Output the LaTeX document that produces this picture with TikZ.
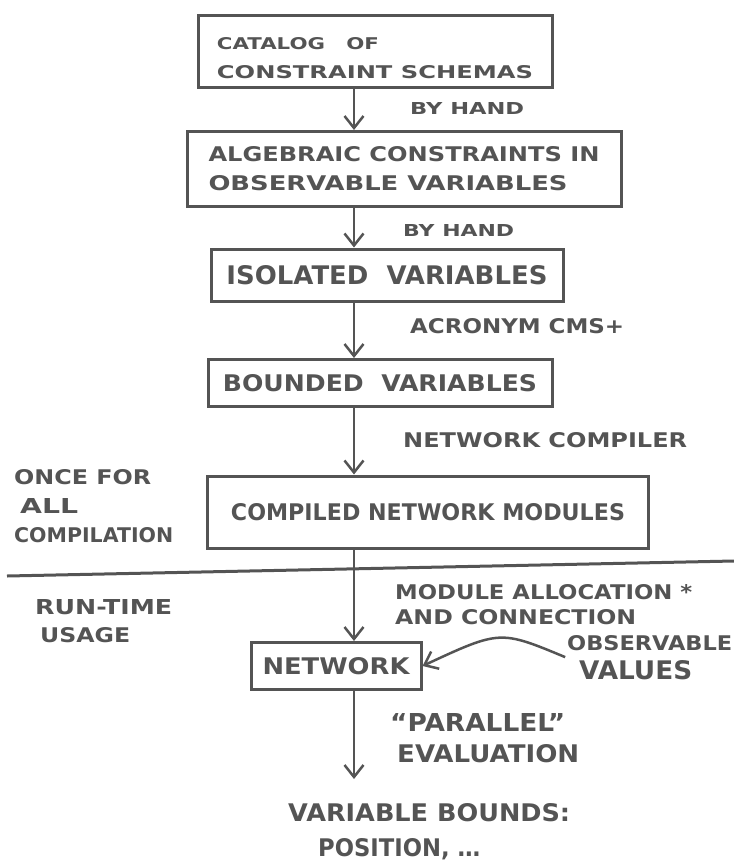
\documentclass[tikz,border=0pt]{standalone}
\usepackage{fontspec}
\setmainfont{DejaVu Sans}
\usepackage{tikz}
\usetikzlibrary{
	arrows.meta
}
\definecolor{Pencil}{RGB}{84,84,84}
% hand lettering: width, cap height, text
\newcommand{\hand}[3]{\resizebox{#1pt}{#2pt}{\bfseries #3}}

\begin{document}
\begin{tikzpicture}[
	x=1pt, y=-1pt,
	every node/.style={text=Pencil, inner sep=0pt},
	box/.style={draw=Pencil, line width=3pt, align=left},
	note/.style={anchor=north west, align=left},
	flow/.style={draw=Pencil, line width=2.5pt,
		-{Straight Barb[length=12pt, width=19pt, line width=2.5pt]}},
	divider/.style={draw=Pencil, line width=3pt}
	]
	\useasboundingbox (0,0) rectangle (734,863);
	
	\coordinate (axis) at (354,0);
	
	\node[
	box,
	minimum width=354pt,
	minimum height=72pt,
	text height=55pt,
	text depth=0pt,
	font=\fontsize{12}{29}\selectfont
	] (catalog) at (375,51) {\hand{162}{12}{CATALOG\quad OF}\\\hand{316}{13}{CONSTRAINT SCHEMAS}};
	
	\node[
	box,
	minimum width=434pt,
	minimum height=75pt,
	font=\fontsize{12}{29}\selectfont
	] (algebraic) at (404,169) {\hand{391}{15}{ALGEBRAIC CONSTRAINTS IN}\\\hand{359}{15}{OBSERVABLE VARIABLES}};
	
	\node[
	box,
	minimum width=352pt,
	minimum height=52pt
	] (isolated) at (387,275) {\hand{321}{19}{ISOLATED\ \ VARIABLES}};
	
	\node[
	box,
	minimum width=344pt,
	minimum height=47pt
	] (bounded) at (380,383) {\hand{314}{17}{BOUNDED\ \ VARIABLES}};
	
	\node[
	box,
	minimum width=441pt,
	minimum height=72pt
	] (compiled) at (428,512) {\hand{394}{17}{COMPILED NETWORK MODULES}};
	
	\node[
	box,
	minimum width=170pt,
	minimum height=47pt
	] (network) at (336,666) {\hand{147}{17}{NETWORK}};
	
	% labels on the arrows
	\node[anchor=west] (byhand1) at (410,108) {\hand{114}{12}{BY HAND}};
	\node[anchor=west] (byhand2) at (403,230) {\hand{111}{12}{BY HAND}};
	\node[anchor=west] (acronym) at (410,326) {\hand{214}{15}{ACRONYM CMS+}};
	\node[anchor=west] (netcomp) at (403,440) {\hand{284}{15}{NETWORK COMPILER}};
	
	\node[note, font=\fontsize{12}{25}\selectfont] (alloc) at (395,584.5)
	{\hand{297}{15}{MODULE ALLOCATION *}\\\hand{241}{15}{AND CONNECTION}};
	
	\node[note, font=\fontsize{12}{29}\selectfont] (obs) at (567,635.5)
	{\hand{165}{15}{OBSERVABLE}\\\hspace*{12pt}\hand{113}{19}{VALUES}};
	
	\node[note, font=\fontsize{12}{31}\selectfont] (parallel) at (390,713)
	{\hand{175}{18}{“PARALLEL”}\\\hspace*{7pt}\hand{182}{18}{EVALUATION}};
	
	\node[note, font=\fontsize{12}{35}\selectfont] (bounds) at (288,803)
	{\hand{282}{18}{VARIABLE BOUNDS:}\\\hspace*{30pt}\hand{162}{18}{POSITION, \dots}};
	
	% phase notes on the left
	\node[note, font=\fontsize{12}{29}\selectfont] (once) at (14,469.5)
	{\hand{137}{15}{ONCE FOR}\\\hspace*{6pt}\hand{58}{15}{ALL}\\\hand{159}{15}{COMPILATION}};
	
	\node[note, font=\fontsize{12}{28}\selectfont] (runtime) at (35,599.5)
	{\hand{137}{15}{RUN-TIME}\\\hspace*{5pt}\hand{90}{15}{USAGE}};
	
	\draw[divider] (7,576) -- (734,561);
	
	\draw[flow] (catalog.south -| axis) -- (algebraic.north -| axis);
	\draw[flow] (algebraic.south -| axis) -- (isolated.north -| axis);
	\draw[flow] (isolated.south -| axis) -- (bounded.north -| axis);
	\draw[flow] (bounded.south -| axis) -- (compiled.north -| axis);
	\draw[flow] (compiled.south -| axis) -- (network.north -| axis);
	\draw[flow, shorten >=24pt] (network.south -| axis) -- (bounds.north -| axis);
	\draw[flow, shorten <=2pt] (obs.west) .. controls (500,630) .. (network.east);
	
\end{tikzpicture}
\end{document}
